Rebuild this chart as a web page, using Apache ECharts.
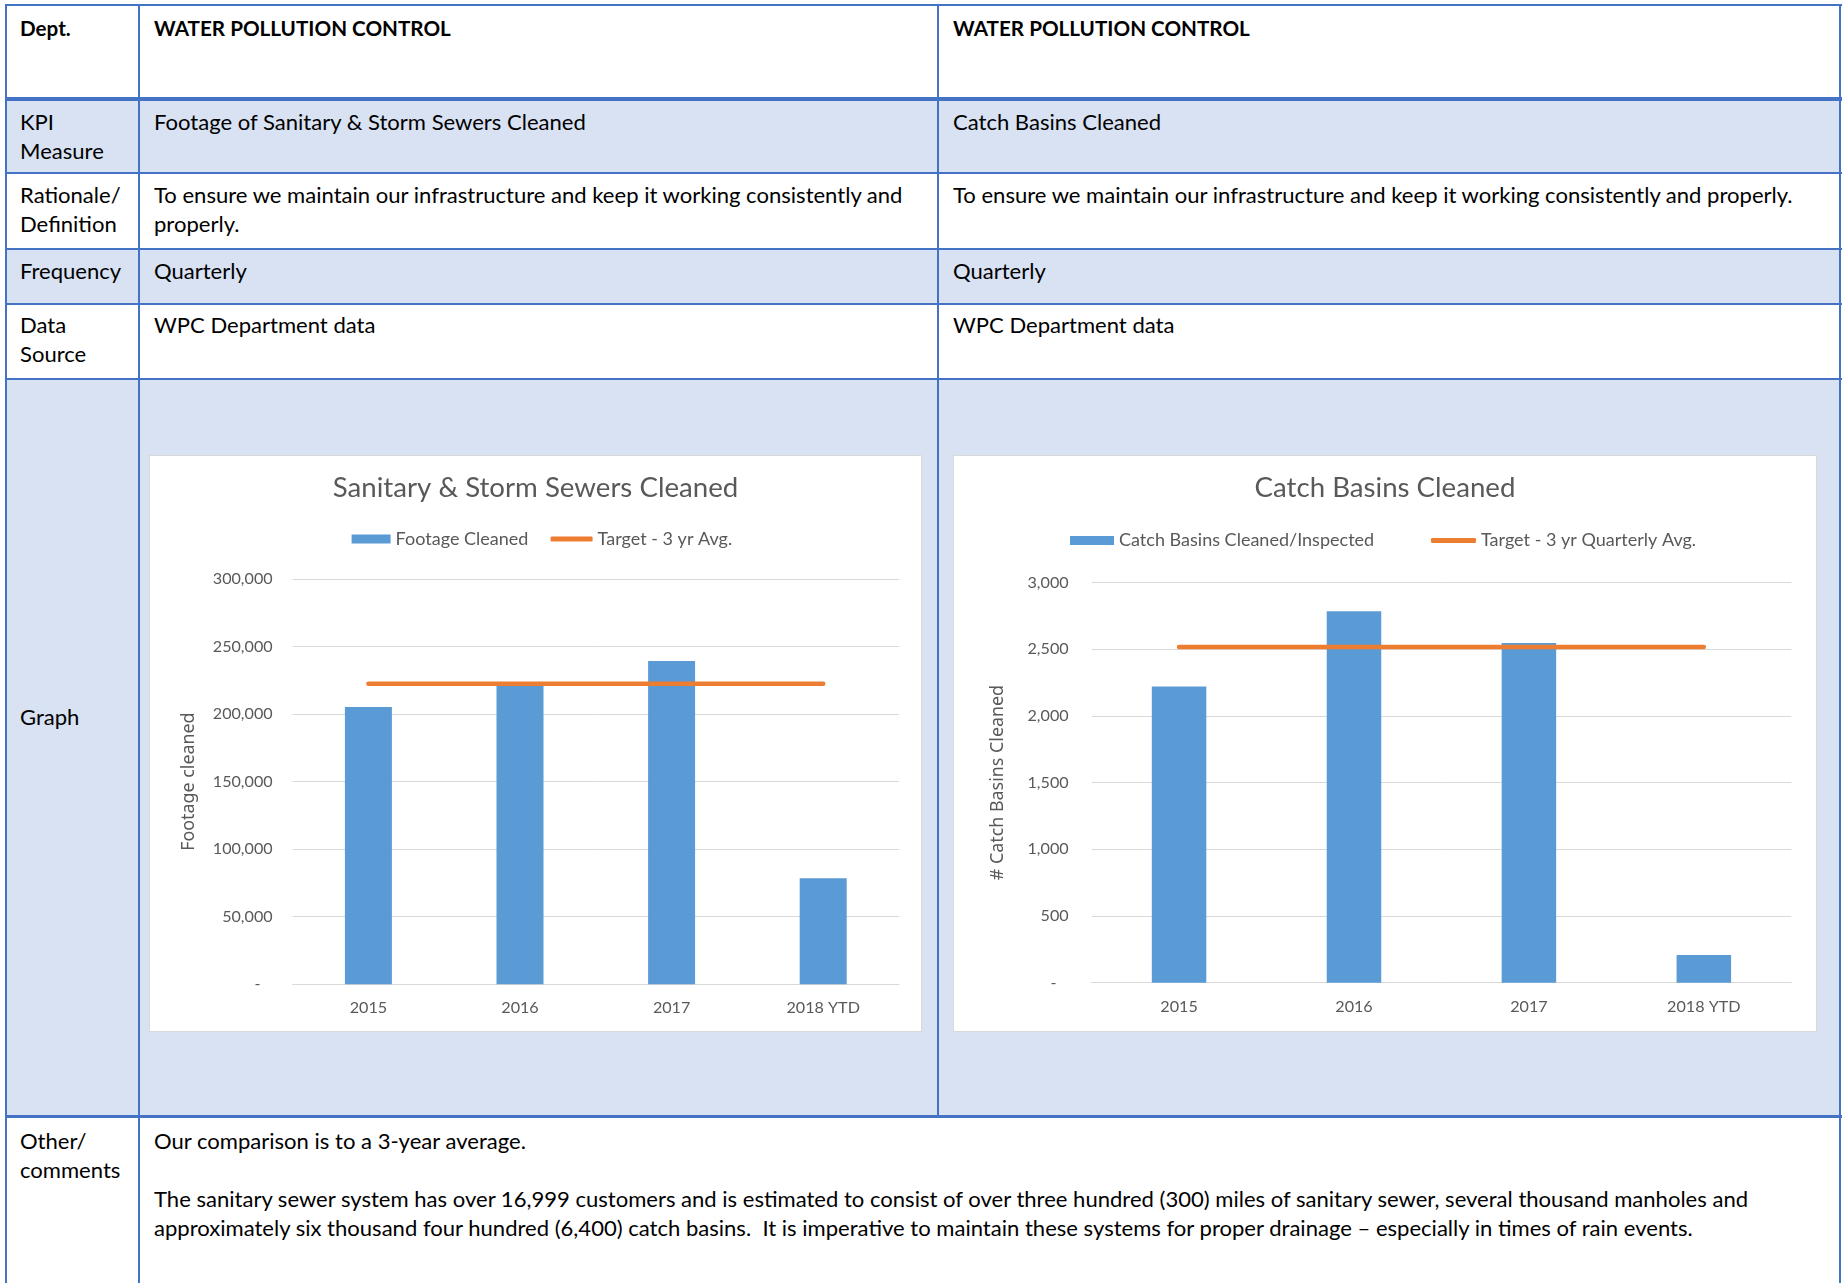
<!DOCTYPE html>
<html><head><meta charset="utf-8">
<script src="https://cdn.jsdelivr.net/npm/echarts@6/dist/echarts.min.js"></script>
<style>
html,body{margin:0;padding:0;background:#fff;width:1845px;height:1283px;overflow:hidden;}
#page{position:relative;width:1845px;height:1283px;font-family:Lato,sans-serif;color:#000;}
.bg{position:absolute;}
.ln{position:absolute;background:#4472C4;}
.t{position:absolute;white-space:nowrap;line-height:29px;}
.b{font-weight:bold;}
.chart{position:absolute;background:#fff;outline:1px solid #D9D9D9;outline-offset:-1px;}
</style></head>
<body>
<div id="page">
  <!-- row backgrounds -->
  <div class="bg" style="left:6px;top:5px;width:1835px;height:94px;background:#fff"></div>
  <div class="bg" style="left:6px;top:99px;width:1835px;height:74px;background:#D9E2F3"></div>
  <div class="bg" style="left:6px;top:173px;width:1835px;height:76px;background:#fff"></div>
  <div class="bg" style="left:6px;top:249px;width:1835px;height:55px;background:#D9E2F3"></div>
  <div class="bg" style="left:6px;top:304px;width:1835px;height:75px;background:#fff"></div>
  <div class="bg" style="left:6px;top:379px;width:1835px;height:738px;background:#D9E2F3"></div>
  <div class="bg" style="left:6px;top:1117px;width:1835px;height:170px;background:#fff"></div>
  <!-- horizontal lines -->
  <div class="ln" style="left:5px;top:4px;width:1837px;height:2px"></div>
  <div class="ln" style="left:5px;top:97px;width:1837px;height:4px"></div>
  <div class="ln" style="left:5px;top:172px;width:1837px;height:2px"></div>
  <div class="ln" style="left:5px;top:248px;width:1837px;height:2px"></div>
  <div class="ln" style="left:5px;top:303px;width:1837px;height:2px"></div>
  <div class="ln" style="left:5px;top:378px;width:1837px;height:2px"></div>
  <div class="ln" style="left:5px;top:1115px;width:1837px;height:3px"></div>
  <!-- vertical lines -->
  <div class="ln" style="left:5px;top:4px;width:2px;height:1290px"></div>
  <div class="ln" style="left:138px;top:4px;width:2px;height:1290px"></div>
  <div class="ln" style="left:937px;top:4px;width:2px;height:1113px"></div>
  <div class="ln" style="left:1839px;top:4px;width:2px;height:1290px"></div>

  <!-- texts -->
  <div class="t b" data-bl="36" style="left:20px">Dept.</div>
  <div class="t b" data-bl="36" style="left:154px">WATER POLLUTION CONTROL</div>
  <div class="t b" data-bl="36" style="left:953px">WATER POLLUTION CONTROL</div>

  <div class="t" data-bl="130" style="left:20px">KPI<br>Measure</div>
  <div class="t" data-bl="130" style="left:154px">Footage of Sanitary &amp; Storm Sewers Cleaned</div>
  <div class="t" data-bl="130" style="left:953px">Catch Basins Cleaned</div>

  <div class="t" data-bl="203" style="left:20px">Rationale/<br>Definition</div>
  <div class="t" data-bl="203" style="left:154px">To ensure we maintain our infrastructure and keep it working consistently and<br>properly.</div>
  <div class="t" data-bl="203" style="left:953px">To ensure we maintain our infrastructure and keep it working consistently and properly.</div>

  <div class="t" data-bl="279" style="left:20px">Frequency</div>
  <div class="t" data-bl="279" style="left:154px">Quarterly</div>
  <div class="t" data-bl="279" style="left:953px">Quarterly</div>

  <div class="t" data-bl="333" style="left:20px">Data<br>Source</div>
  <div class="t" data-bl="333" style="left:154px">WPC Department data</div>
  <div class="t" data-bl="333" style="left:953px">WPC Department data</div>

  <div class="t" data-bl="725" style="left:20px">Graph</div>

  <div class="t" data-bl="1149" style="left:20px">Other/<br>comments</div>
  <div class="t" data-bl="1149" style="left:154px">Our comparison is to a 3-year average.<br><br>The sanitary sewer system has over 16,999 customers and is estimated to consist of over three hundred (300) miles of sanitary sewer, several thousand manholes and<br>approximately six thousand four hundred (6,400) catch basins.&nbsp; It is imperative to maintain these systems for proper drainage – especially in times of rain events.</div>

  <div id="c1" class="chart" style="left:149px;top:455px;width:773px;height:577px"></div>
  <div id="c2" class="chart" style="left:953px;top:455px;width:864px;height:577px"></div>
</div>
<script>
// ---------- data ----------
const categories = ['2015', '2016', '2017', '2018 YTD'];
const footageCleaned = [205300, 223000, 239300, 78500];
const footageTarget = [222500, 222500, 222500, 222500];
const basinsCleaned = [2220, 2783, 2545, 207];
const basinsTarget = [2516, 2516, 2516, 2516];
const footageTickLabels = ['-', '50,000', '100,000', '150,000', '200,000', '250,000', '300,000'];
const basinsTickLabels = ['-', '500', '1,000', '1,500', '2,000', '2,500', '3,000'];

// ---------- font fitting ----------
const cv = document.createElement('canvas').getContext('2d');
function fit(text, family, weight, target) {
  cv.font = weight + ' 100px ' + family;
  return 100 * target / cv.measureText(text).width;
}
const FS = fit('Footage of Sanitary & Storm Sewers Cleaned', 'Lato', 'normal', 433);
const FSB = fit('WATER POLLUTION CONTROL', 'Lato', 'bold', 297);
document.querySelectorAll('.t').forEach(el => {
  const f = el.classList.contains('b') ? FSB : FS;
  el.style.fontSize = f + 'px';
  const bl = +el.dataset.bl;
  el.style.top = (bl - (14.5 + 0.387 * f)) + 'px';
});

const TITLE_FS = (fit('Sanitary & Storm Sewers Cleaned', 'Lato', 'normal', 390) + fit('Catch Basins Cleaned', 'Lato', 'normal', 271)) / 2;
const LEG_FS = (fit('Footage Cleaned', 'Lato', 'normal', 127) + fit('Catch Basins Cleaned/Inspected', 'Lato', 'normal', 267)) / 2;
const AX_FS = (fit('300,000', 'Lato', 'normal', 61.5) + fit('2018 YTD', 'Lato', 'normal', 71.5)) / 2;
const NAME_FS = (fit('Footage cleaned', 'Noto Sans', 'normal', 136) + fit('# Catch Basins Cleaned', 'Noto Sans', 'normal', 199)) / 2;

const GREY = '#595959';

function makeOption(c) {
  return {
    animation: false,
    title: {
      text: c.title, left: 'center', top: 35 - TITLE_FS * 0.62 + 1.5, padding: 0,
      textStyle: { fontFamily: 'Lato', fontWeight: 'normal', fontSize: TITLE_FS, color: GREY }
    },
    legend: [
      {
        data: [c.barName], left: c.leg1Left, top: c.legY - 10, itemWidth: c.leg1W, itemHeight: 9,
        icon: 'rect', selectedMode: false, padding: 0,
        textStyle: { fontFamily: 'Lato', fontSize: LEG_FS, color: GREY, height: 20, lineHeight: 20 }
      },
      {
        data: [c.lineName], left: c.leg2Left, top: c.legY - 10, itemWidth: c.leg2W, itemHeight: 5,
        icon: 'roundRect', selectedMode: false, padding: 0,
        textStyle: { fontFamily: 'Lato', fontSize: LEG_FS, color: GREY, height: 20, lineHeight: 20 }
      }
    ],
    grid: c.grid,
    xAxis: {
      type: 'category', data: categories,
      axisLine: { lineStyle: { color: '#D9D9D9', width: 1 } },
      axisTick: { show: false },
      axisLabel: { fontFamily: 'Lato', fontSize: AX_FS, color: GREY, margin: 16 }
    },
    yAxis: {
      type: 'value', min: 0, max: c.max, interval: c.interval,
      axisLine: { show: false }, axisTick: { show: false },
      splitLine: { lineStyle: { color: '#D9D9D9', width: 1 } },
      axisLabel: {
        fontFamily: 'Lato', fontSize: AX_FS, color: GREY, margin: c.labMargin,
        formatter: v => {
          const s = c.tickLabels[Math.round(v / c.interval)];
          return s === '-' ? '{d|-}' : s;
        },
        rich: { d: { fontFamily: 'Lato', fontSize: AX_FS, color: GREY, padding: [0, 12, 0, 0] } }
      },
      name: c.yName, nameLocation: 'middle', nameGap: c.nameGap,
      nameTextStyle: { fontFamily: 'Noto Sans', fontSize: NAME_FS, color: GREY }
    },
    series: [
      { name: c.barName, type: 'bar', data: c.bars, barWidth: c.barWidth, itemStyle: { color: '#5B9BD5' } },
      {
        name: c.lineName, type: 'line', data: c.line, symbol: 'none', showSymbol: false,
        itemStyle: { color: '#ED7D31' },
        lineStyle: { color: '#ED7D31', width: 4.5, cap: 'round' }, z: 5
      }
    ]
  };
}

const ch1 = echarts.init(document.getElementById('c1'), null, { renderer: 'canvas' });
ch1.setOption(makeOption({
  title: 'Sanitary & Storm Sewers Cleaned',
  barName: 'Footage Cleaned', lineName: 'Target - 3 yr Avg.',
  leg1Left: 202.6, leg1W: 39, leg2Left: 401.6, leg2W: 42, legY: 84,
  grid: { left: 143.6, right: 23, top: 124, bottom: 47.8 },
  max: 300000, interval: 50000, tickLabels: footageTickLabels, labMargin: 20,
  yName: 'Footage cleaned', nameGap: 95,
  bars: footageCleaned, line: footageTarget, barWidth: 47
}));

const ch2 = echarts.init(document.getElementById('c2'), null, { renderer: 'canvas' });
ch2.setOption(makeOption({
  title: 'Catch Basins Cleaned',
  barName: 'Catch Basins Cleaned/Inspected', lineName: 'Target - 3 yr Quarterly Avg.',
  leg1Left: 117, leg1W: 44, leg2Left: 478, leg2W: 45, legY: 85.6,
  grid: { left: 138.6, right: 25.7, top: 127.4, bottom: 49.3 },
  max: 3000, interval: 500, tickLabels: basinsTickLabels, labMargin: 23,
  yName: '# Catch Basins Cleaned', nameGap: 85,
  bars: basinsCleaned, line: basinsTarget, barWidth: 54.5
}));
</script>
</body></html>
